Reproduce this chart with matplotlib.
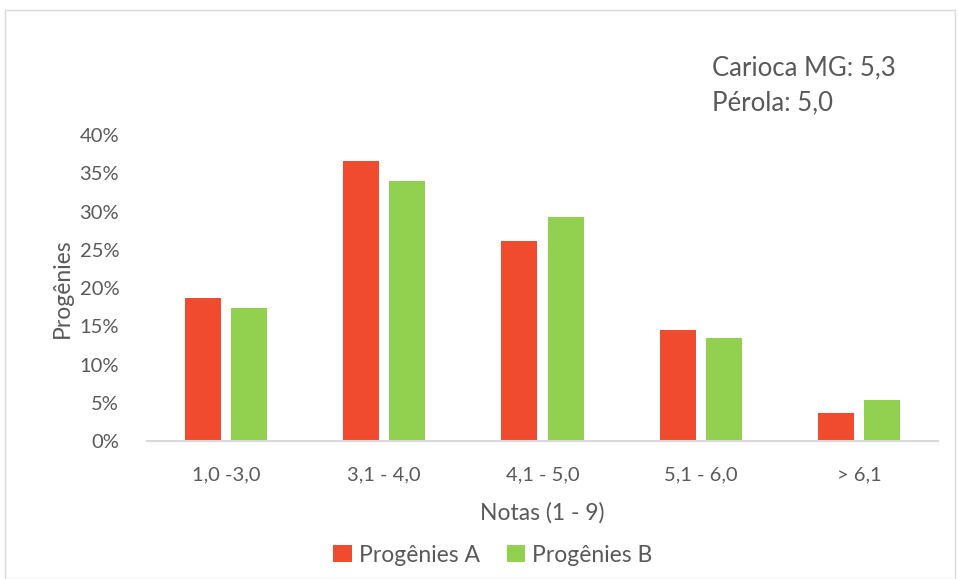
import matplotlib.pyplot as plt
import numpy as np
from matplotlib.patches import Rectangle

categorias = ['1,0 -3,0', '3,1 - 4,0', '4,1 - 5,0', '5,1 - 6,0', '> 6,1']
prog_a = [18.7, 36.6, 26.1, 14.5, 3.7]
prog_b = [17.4, 34.0, 29.3, 13.5, 5.4]

plt.rcParams['font.family'] = ['Lato', 'DejaVu Sans']
cinza = '#595959'

fig = plt.figure(figsize=(9.58, 5.79), dpi=100)
fig.patches.append(Rectangle((5/958, 0), 950/958, 569/579, transform=fig.transFigure,
                             fill=False, edgecolor='#d9d9d9', linewidth=1.0))
ax = fig.add_axes([147/958, 138/579, 791/958, 306/579])

x = np.arange(len(categorias))
w = 0.227
ax.bar(x - 0.146, prog_a, w, color='#f04a2f', label='Progênies A')
ax.bar(x + 0.146, prog_b, w, color='#92d050', label='Progênies B')

ax.set_xlim(-0.5, len(categorias) - 0.5)
ax.set_ylim(0, 40)
ax.set_yticks(np.arange(0, 41, 5))
ax.set_yticklabels([f'{v}%' for v in range(0, 41, 5)])
ax.set_xticks(x)
ax.set_xticklabels(categorias)
ax.tick_params(axis='both', length=0, labelsize=14.5, colors=cinza)
ax.tick_params(axis='x', pad=18)
ax.tick_params(axis='y', pad=20)
for s in ['top', 'right', 'left']:
    ax.spines[s].set_visible(False)
ax.spines['bottom'].set_color('#d9d9d9')
ax.spines['bottom'].set_linewidth(1.5)

ax.set_xlabel('Notas (1 - 9)', fontsize=16.5, color=cinza, labelpad=14)
ax.set_ylabel('Progênies', fontsize=16.5, color=cinza, labelpad=5)

fig.text(712/958, 1 - 68/579, 'Carioca MG: 5,3', fontsize=18.5, color=cinza, va='center')
fig.text(712/958, 1 - 103/579, 'Pérola: 5,0', fontsize=18.5, color=cinza, va='center')

fig.legend(loc='center', bbox_to_anchor=(493/958, 1 - 555/579), ncol=2, frameon=False,
           fontsize=16.5, handlelength=0.8, handleheight=0.8, handletextpad=0.3,
           columnspacing=1.2, labelcolor=cinza)

fig.savefig('out.png', dpi=100)
